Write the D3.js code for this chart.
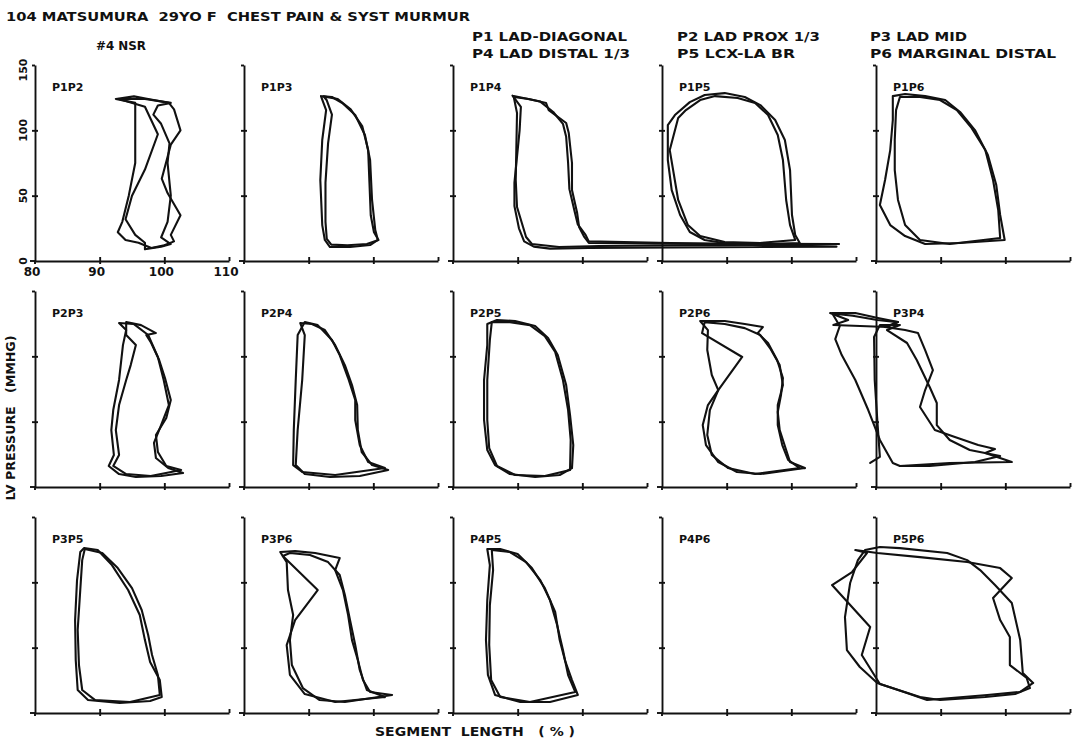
<!DOCTYPE html>
<html><head><meta charset="utf-8">
<script src="https://cdn.jsdelivr.net/npm/d3@7"></script>
<style>
html,body{margin:0;padding:0;background:#fff;}
svg{display:block;}
text{font-family:"DejaVu Sans",sans-serif;font-weight:bold;fill:#111;white-space:pre;}
</style>
</head><body>
<svg id="c" width="1081" height="745"></svg>
<script>
// ---------- text ----------
const titleText = "104 MATSUMURA  29YO F  CHEST PAIN & SYST MURMUR";
const runText = "#4 NSR";
const legendText = ["P1 LAD-DIAGONAL","P4 LAD DISTAL 1/3","P2 LAD PROX 1/3","P5 LCX-LA BR","P3 LAD MID","P6 MARGINAL DISTAL"];
const yTitle = "LV PRESSURE   (MMHG)";
const xTitle = "SEGMENT  LENGTH   ( % )";
const panelNames = [
  ["P1P2","P1P3","P1P4","P1P5","P1P6"],
  ["P2P3","P2P4","P2P5","P2P6","P3P4"],
  ["P3P5","P3P6","P4P5","P4P6","P5P6"]
];
const xTicks = [80,90,100,110];
const yTicks = [0,50,100,150];

// ---------- data: [segment length %, LV pressure mmHg] ----------
const p1p2 = [
 [[98,10],[100,12],[101.5,15],[101,20],[102.5,35],[100.5,52],[99.6,63],[101,89],[102.5,100],[101.5,116],[100.7,121],[97.5,124],[95.3,126],[92.5,124],[95.5,121],[95.5,75],[94.5,50],[93.5,30],[92.8,22],[94,16],[96,14],[98,10]],
 [[97,9],[99.5,11],[101,13],[99.5,18],[100.5,30],[101,50],[100.5,75],[100.8,90],[99.5,105],[98.3,112],[99,119],[101,121],[97,124],[93,124],[97,118],[99,97],[97,70],[95,50],[94,32],[95.5,20],[97,14],[97,9]]
];
const p1p3 = [
 [[91.9,126.2],[93.6,125.5],[95.2,120.9],[97.2,111.7],[98.7,96.4],[99.5,77.3],[99.8,46.7],[100.3,23.7],[100.7,16.1],[99.5,12.2],[96.4,10.7],[93.3,10.7],[92.5,16.1],[92.1,27.5],[91.8,62],[92.1,92.6],[92.7,115.5],[91.9,126.2]],
 [[92.3,126],[94.5,124],[96.5,116],[98.3,103],[99.2,85],[99.4,60],[99.6,35],[100.1,22],[100.8,16],[99,13],[96,12],[93.5,12.5],[92.8,17],[92.6,30],[92.6,60],[93,90],[93.6,112],[92.8,123],[92.3,126]]
];
const p1p4 = [
 [[89.4,125.5],[91.7,124],[94.4,120.9],[94.8,115.5],[97.5,105.6],[97.9,97.9],[98.4,75],[98.4,54.3],[99.2,36.7],[99.5,26],[100.3,18.4],[101,13.8],[139.7,13],[102.6,11.5],[96.4,10.7],[92.2,13],[91.3,18.4],[89.9,41.3],[89.7,62],[89.9,113.2],[89.4,125.5]],
 [[89.2,126.5],[93.5,122],[95.5,114],[97,105],[97.5,95],[97.8,75],[98,55],[98.8,38],[99.3,28],[100.5,20],[101,15],[139.3,11],[101,10],[95,9.5],[92.5,11],[91,15],[90.2,25],[89.5,42],[89.5,60],[90.3,100],[90.5,118],[89.2,126.5]]
];
const p1p5 = [
 [[101.3,13.8],[100.6,19.9],[100.1,35.2],[99.8,69.6],[99,92.6],[97.5,107.9],[95.2,119.3],[92.8,125.5],[89.7,128.5],[86.6,127],[84.3,121.6],[82,111.7],[80.9,104],[80.9,77.3],[81.5,54.3],[82.8,35.2],[84.3,22.2],[86.6,16.1],[90.5,13],[96.7,13],[101.3,13.8]],
 [[100.6,16.1],[99.8,27.5],[99.2,46.7],[98.7,77.3],[97.9,96.4],[96.4,111.7],[94.4,120.9],[91.7,124.7],[88.2,126.2],[85.9,123.2],[83.7,115.5],[82.5,109.4],[81.2,84.9],[82.5,46.7],[84,27.5],[85.9,19.1],[89.7,14.5],[95.2,13.8],[100.6,16.1]]
];
const p1p6 = [
 [[99.9,16.1],[99.2,35.2],[98.6,58.1],[97.3,81.1],[95.3,100.2],[93,114],[90.7,123.2],[87.6,126.2],[84.5,127.8],[82.6,126.2],[82.6,107.9],[82.2,84.9],[81.4,62],[80.6,42.8],[82.2,27.5],[84.5,19.1],[87.6,13],[93,13.8],[99.9,16.1]],
 [[99.2,17.6],[98.9,39],[98.1,62],[96.9,84.9],[94.8,101.7],[92.5,115.5],[89.9,123.2],[86.8,125.5],[83.7,125.5],[83.1,115.5],[82.9,92.6],[82.9,69.6],[83.4,46.7],[84.5,27.5],[86.8,16.1],[91.4,13],[99.2,17.6]]
];
const p2p3 = [
 [[102.9,10.7],[100.6,14.5],[98.7,22.2],[98.4,33.7],[99.5,47.4],[100.7,62.7],[99.9,81.9],[99,99.5],[97.5,116.3],[95.3,124.7],[93,125.5],[94.1,120.1],[93.6,108.6],[93,81.9],[92.1,58.9],[91.8,43.6],[92.2,24.5],[91.4,16.1],[93,9.9],[95.6,7.7],[99.5,8.4],[102.9,10.7]],
 [[102.6,13],[100.3,16.1],[99,26.8],[98.7,39.8],[100.3,52.8],[101,66.6],[100.1,83.4],[99.2,97.2],[97.9,110.9],[97.2,116.3],[98.7,117.8],[96.4,123.9],[94.1,126.2],[94.1,116.3],[95.6,108.6],[94.8,93.3],[94.1,81.9],[93,62.7],[92.5,43.6],[93,24.5],[92.1,16.1],[94.1,9.9],[97.9,8.4],[102.6,13]]
];
const p2p4 = [
 [[102.3,13],[99.8,16.8],[98.2,26.8],[97.6,43.6],[97.5,62.7],[96.7,78],[95.6,93.3],[94.1,108.6],[92.5,120.1],[90.5,124.7],[88.7,125.5],[89.4,116.3],[89,81.9],[88.3,43.6],[88,16.8],[89.4,9.9],[93.3,7.7],[97.9,8.4],[102.3,13]],
 [[101.8,14.5],[99.2,19.1],[97.9,32.1],[97.2,51.3],[97.2,66.6],[96.1,83.4],[94.8,101],[93.6,112.5],[91.4,123.9],[89.4,126.2],[88.3,116.3],[88,81.9],[87.7,43.6],[87.6,16.8],[89,11.5],[94.1,9.2],[101.8,14.5]]
];
const p2p5 = [
 [[98.4,14.5],[98.6,32.1],[98.1,55.1],[97.5,78],[96.2,101],[94.7,114],[92.7,123.2],[89.6,127],[86.8,127.8],[85.3,124.7],[85.3,108.6],[84.8,81.9],[84.8,51.3],[85.3,28.3],[86.5,16.8],[88.8,9.9],[92.7,7.7],[96.5,9.2],[98.4,14.5]],
 [[98.1,13],[98.2,36],[97.8,58.9],[97,81.9],[95.8,103.3],[94.2,115.5],[91.9,123.9],[88.8,126.2],[86,126.2],[85.7,112.5],[85.3,81.9],[85.3,51.3],[85.6,29.8],[86.8,16.1],[89.6,9.2],[94.2,8.4],[98.1,13]]
];
const p2p6 = [
 [[102.1,14.5],[99.8,19.1],[99.2,28.3],[98.2,43.6],[97.9,57.4],[98.4,70.4],[98.7,83.4],[97.8,97.2],[96.4,110.2],[94.8,117.8],[95.6,122.4],[92.8,124.7],[89.7,127],[85.9,127],[87.1,120.1],[87,104.8],[87.7,85.7],[88.7,74.2],[87.1,62.7],[86.3,47.4],[86.8,32.1],[88.7,19.1],[91.6,11.5],[95.2,9.9],[102.1,14.5]],
 [[101.3,14.5],[99.5,20.7],[98.6,32.1],[97.9,47.4],[97.9,62.7],[98.7,78],[98.2,93.3],[96.7,106.3],[95.2,116.3],[92.8,121.6],[89.7,124.7],[86.6,126.2],[86.2,117.8],[92.4,99.5],[88.7,74.2],[87.4,58.9],[87,39.8],[87.7,24.5],[90.2,14.5],[94.4,9.9],[101.3,14.5]]
];
const p3p4 = [
 [[101,19.1],[91.4,18.4],[83.7,16.1],[82.6,18.4],[80.6,36],[78.8,58.9],[76.8,81.9],[74.7,101],[73.7,113.2],[74.4,123.2],[73.2,133.1],[76.8,133.1],[80.3,129.3],[83.4,126.2],[81.4,122.4],[84.5,120.1],[86.5,117.8],[87.6,104.8],[88.8,89.5],[87.6,74.2],[86.8,61.2],[89.1,43.6],[92.2,38.3],[95.8,32.1],[98.4,29.1],[96.9,26],[101,19.1]],
 [[79.1,18.4],[80.6,23],[80.2,51.3],[79.8,81.9],[79.7,114.8],[80.6,123.9],[83.7,123.9],[81.7,120.1],[84.8,110.2],[86.3,97.2],[88.3,76.5],[89.4,64.3],[89.4,47.4],[91.4,36],[94.5,28.3],[99.2,23.7],[95.3,19.1],[88.3,16.1],[83.7,16.1]],
 [[73.4,124],[75.7,127.8],[72.9,133.1],[76.4,131],[80.2,127.8],[83.4,126.2],[81.7,122.4],[73.4,124]]
];
const p3p5 = [
 [[99.6,12.2],[99.3,25.2],[97.8,39],[97,55.8],[96.2,75],[94.4,94.1],[91.9,113.2],[89.7,124.7],[87.6,126.2],[87,123.2],[86.5,101.7],[86.2,71.1],[86.3,40.5],[86.6,17.6],[88.2,9.9],[93.1,7.7],[97.8,9.2],[99.6,12.2]],
 [[99.3,13.8],[99,29.1],[98.1,44.4],[97.5,59.7],[96.5,78.8],[95,95.6],[92.8,110.9],[90.4,122.4],[87.7,125.5],[87.3,117],[87,94.1],[86.6,63.5],[86.8,36.7],[87.3,17.6],[89.3,9.9],[94.7,8.4],[99.3,13.8]]
];
const p3p6 = [
 [[102.9,13.8],[99.5,16.1],[98.4,25.2],[97.6,40.5],[96.7,55.8],[96.1,75],[95.3,94.1],[94.1,109.4],[94.8,118.6],[91,122.4],[87.9,123.9],[85.6,123.2],[86.6,115.5],[86.8,94.1],[87.6,75],[87.1,55.8],[87.4,36.7],[89.1,19.1],[91.7,9.9],[95.6,8.4],[102.9,13.8]],
 [[101.8,12.2],[99,17.6],[97.9,32.9],[97.2,52],[96.4,71.1],[95.6,90.3],[94.8,105.6],[93,115.5],[90.2,120.9],[87.1,122.4],[86,120.1],[91.4,94.1],[87.9,71.1],[86.6,52],[87.1,29.1],[89.4,14.5],[94.1,8.4],[101.8,12.2]]
];
const p4p5 = [
 [[99.3,13.8],[98.4,25.2],[97.3,40.5],[96.5,55.8],[95.8,77.3],[94.2,95.6],[92.2,110.9],[90,121.6],[87.3,125.5],[85.3,125.5],[85.7,113.2],[85.3,86.4],[85.1,55.8],[85.4,29.1],[86.5,13.8],[90.4,8.4],[95,8.4],[99.3,13.8]],
 [[98.9,16.1],[97.8,29.1],[97,48.2],[96.1,67.3],[95,86.4],[93.5,101.7],[91.3,115.5],[88.8,123.2],[86,124.7],[86.2,109.4],[85.7,82.6],[85.6,52],[85.9,25.2],[87.3,12.2],[91.9,8.4],[98.9,16.1]]
];
const p4p6 = [];
const p5p6 = [
 [[104.3,23],[102.3,16.1],[97.2,13.8],[87.9,9.9],[84.8,15.3],[80.2,23],[77.5,35.2],[75.5,48.2],[75.2,73.4],[76,99.5],[77.2,117],[78.3,124.7],[80.6,127],[83.7,126.2],[91,122.4],[94.1,117],[96.1,109.4],[98.4,97.9],[101,84.2],[102.3,55.8],[102.7,30.6],[104.3,23]],
 [[103.8,19.1],[101.5,14.5],[96.9,12.2],[89.9,9.9],[86.8,12.2],[80.6,22.2],[77.8,44.4],[79.1,65.8],[73.2,97.9],[76.3,107.9],[78.6,122.4],[76.8,124.7],[80.2,122.4],[86.8,119.3],[94.1,115.5],[99.2,110.9],[101,103.3],[98.1,88],[99.2,71.1],[100.7,58.1],[100.7,36.7],[103.3,26.8],[103.8,19.1]]
];
const panelData = {P1P2:p1p2,P1P3:p1p3,P1P4:p1p4,P1P5:p1p5,P1P6:p1p6,
  P2P3:p2p3,P2P4:p2p4,P2P5:p2p5,P2P6:p2p6,P3P4:p3p4,
  P3P5:p3p5,P3P6:p3p6,P4P5:p4p5,P4P6:p4p6,P5P6:p5p6};

// ---------- layout ----------
const svg = d3.select("#c");
const ink = "#111";
const colX = [35, 244, 453, 662, 876];
const rowBottom = [261, 487, 713];
const PW = 194, PH = 196;

panelNames.forEach((row, r) => {
  row.forEach((name, c) => {
    const ax = colX[c], by = rowBottom[r];
    const x = d3.scaleLinear().domain([80,110]).range([ax, ax+PW]);
    const y = d3.scaleLinear().domain([0,150]).range([by, by-PH]);
    const g = svg.append("g");

    // y axis
    g.append("g").attr("transform",`translate(${ax},0)`)
      .call(d3.axisLeft(y).tickValues(yTicks.slice(1)).tickSize(3).tickSizeOuter(0).tickFormat(""));
    g.append("g").attr("transform",`translate(${ax},0)`)
      .call(d3.axisRight(y).tickValues([50,100]).tickSize(3).tickSizeOuter(0).tickFormat(""))
      .select(".domain").remove();
    // x axis
    g.append("g").attr("transform",`translate(0,${by})`)
      .call(d3.axisBottom(x).tickValues([90,100]).tickSize(3).tickSizeOuter(0).tickFormat(""));
    g.append("g").attr("transform",`translate(0,${by})`)
      .call(d3.axisTop(x).tickValues([90,100,110]).tickSize(4).tickSizeOuter(0).tickFormat(""))
      .select(".domain").remove();
    // origin cross
    g.append("line").attr("x1",ax-5).attr("x2",ax).attr("y1",by).attr("y2",by);
    g.append("line").attr("x1",ax).attr("x2",ax).attr("y1",by).attr("y2",by+3);
    g.selectAll("path.domain, line").attr("stroke",ink).attr("stroke-width",1.9);

    // panel label
    g.append("text").attr("x",ax+17).attr("y",y(150)+26)
      .attr("font-size",11).text(name);

    // loops
    const line = d3.line().x(d=>x(d[0])).y(d=>y(d[1]));
    g.selectAll("path.loop").data(panelData[name]).enter().append("path")
      .attr("class","loop").attr("d",line)
      .attr("fill","none").attr("stroke",ink).attr("stroke-width",2.1)
      .attr("stroke-linejoin","round").attr("stroke-linecap","round");

    // tick labels only on first panel
    if (r===0 && c===0) {
      g.selectAll("text.xt").data(xTicks).enter().append("text")
        .attr("x",d=>x(d)-3).attr("y",by+15).attr("text-anchor","middle")
        .attr("font-size",12).text(d=>d);
      g.selectAll("text.yt").data(yTicks).enter().append("text")
        .attr("transform",d=>`translate(${ax-8},${y(d)+(d===150?5:0)}) rotate(-90)`)
        .attr("text-anchor","middle").attr("font-size",11).text(d=>d);
    }
  });
});

// ---------- header text ----------
svg.append("text").attr("x",6).attr("y",21).attr("font-size",13)
  .attr("textLength",464).attr("lengthAdjust","spacingAndGlyphs").text(titleText);
svg.append("text").attr("x",96).attr("y",50).attr("font-size",13)
  .attr("textLength",50).attr("lengthAdjust","spacingAndGlyphs").text(runText);
const legX = [472, 472, 677, 677, 870, 870];
const legY = [41, 58, 41, 58, 41, 58];
const legW = [155, 158, 143, 118, 97, 186];
legendText.forEach((t,i) => {
  svg.append("text").attr("x",legX[i]).attr("y",legY[i]).attr("font-size",13)
    .attr("textLength",legW[i]).attr("lengthAdjust","spacingAndGlyphs").text(t);
});
svg.append("text").attr("transform","translate(15,418) rotate(-90)")
  .attr("text-anchor","middle").attr("font-size",12)
  .attr("textLength",165).attr("lengthAdjust","spacingAndGlyphs").text(yTitle);
svg.append("text").attr("x",375).attr("y",736).attr("font-size",12)
  .attr("textLength",200).attr("lengthAdjust","spacingAndGlyphs").text(xTitle);
</script>
</body></html>
